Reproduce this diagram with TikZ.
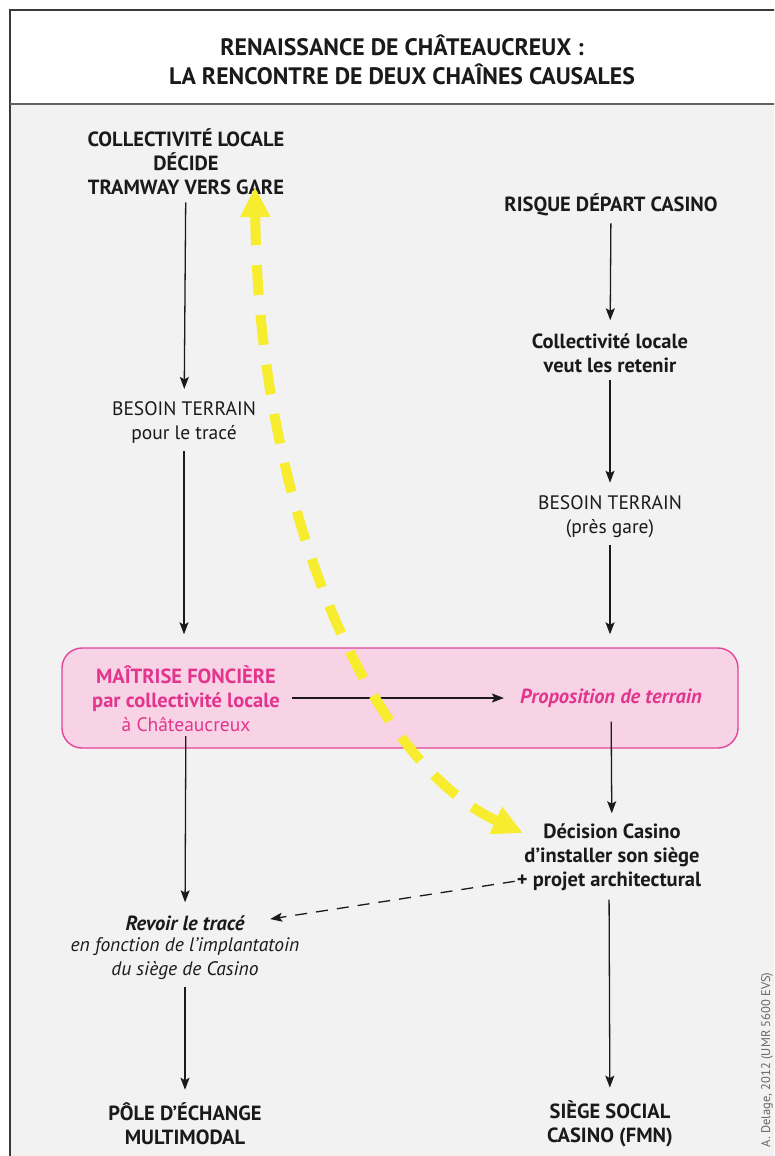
\documentclass[tikz,border=0pt]{standalone}
\usepackage{fontspec}
\setmainfont{PT Sans}
\usetikzlibrary{arrows.meta,calc}
\definecolor{bodybg}{HTML}{F2F2F2}
\definecolor{framec}{HTML}{3A3A3A}
\definecolor{pinkfill}{HTML}{F8D3E5}
\definecolor{pinkdraw}{HTML}{E2459B}
\definecolor{magtext}{HTML}{E3358E}
\definecolor{ink}{HTML}{1A1A1A}
\definecolor{yel}{HTML}{F7EC2E}
\newcommand{\regf}{\fontsize{19.5}{24}\selectfont}
\newcommand{\boldf}{\fontsize{20.5}{24}\selectfont\bfseries}
\begin{document}
\begin{tikzpicture}[x=1pt,y=-1pt,
  txt/.style={align=center,inner sep=0pt,text=ink,font=\regf},
  btxt/.style={txt,font=\boldf},
  arr/.style={draw=ink,line width=1.3pt,-{Stealth[length=12pt,width=9pt,inset=2.5pt]},shorten <=7pt,shorten >=13pt},
  darr/.style={arr,dashed,dash pattern=on 12pt off 9pt},
  yarr/.style={draw=yel,line width=10pt,dash pattern=on 30pt off 20pt,
    {Triangle[length=30pt,width=28pt]}-{Triangle[length=30pt,width=28pt]}}]
\useasboundingbox (0,0) rectangle (774,1156);
\clip (0,0) rectangle (774,1156);
\fill[white] (0,0) rectangle (774,1156);
\fill[bodybg] (10,104) rectangle (800,1170);
\draw[framec,line width=2pt] (10,1170) -- (10,10) -- (800,10);
\draw[framec!80,line width=2.6pt] (10,104) -- (800,104);
% title
\node[align=center,inner sep=0pt,text=ink,font=\fontsize{23.8}{29.5}\selectfont\bfseries] (title) at (402,60)
  {RENAISSANCE DE CHÂTEAUCREUX :\\LA RENCONTRE DE DEUX CHAÎNES CAUSALES};
% pink box
\node[draw=pinkdraw,fill=pinkfill,line width=1.4pt,rounded corners=20pt,minimum width=676pt,minimum height=100pt,inner sep=0pt] (box) at (400,698) {};
% left column
\node[btxt] (L1) at (186,162) {COLLECTIVITÉ LOCALE\\DÉCIDE\\TRAMWAY VERS GARE};
\node[txt] (L2) at (184,423) {BESOIN TERRAIN\\pour le tracé};
\node[txt,text=magtext] (LB) at (186,699) {{\boldf MAÎTRISE FONCIÈRE}\\{\boldf par collectivité locale}\\à Châteaucreux};
\node[btxt,font=\boldf\itshape] (L4a) at (185,923) {Revoir le tracé};
\node[txt,font=\regf\itshape] (L4b) at (185,959) {en fonction de l’implantatoin\\du siège de Casino};
\node[btxt] (L5) at (185,1124) {PÔLE D’ÉCHANGE\\MULTIMODAL};
% right column
\node[btxt] (R1) at (611,205) {RISQUE DÉPART CASINO};
\node[btxt] (R2) at (610,353) {Collectivité locale\\veut les retenir};
\node[txt] (R3) at (610,517) {BESOIN TERRAIN\\(près gare)};
\node[btxt,text=magtext,font=\boldf\itshape] (P) at (611,698) {Proposition de terrain};
\node[btxt] (R4a) at (612,845) {Décision Casino\\d’installer son siège};
\node[btxt] (R4b) at (609,881) {+ projet architectural};
\node[btxt] (R5) at (610,1124) {SIÈGE SOCIAL\\CASINO (FMN)};
% copyright
\node[rotate=90,inner sep=0pt,text=black!60,font=\fontsize{12.5}{14}\selectfont] (copy) at (767,1060) {A. Delage, 2012 (UMR 5600 EVS)};
% connectors
\draw[arr] (L1) -- (L2);
\draw[arr] (L2) -- (L2 |- box.north);
\draw[arr,shorten <=4pt] (LB) -- (L4a);
\draw[arr] (L4b) -- (L5);
\draw[arr,shorten <=12pt,shorten >=16pt] (LB.east |- P) -- (P);
\draw[arr] (R1) -- (R2);
\draw[arr] (R2) -- (R3);
\draw[arr] (R3) -- (R3 |- box.north);
\draw[arr,shorten <=14pt,shorten >=10pt] (P) -- (R4a);
\draw[arr,shorten <=9pt] (R4b) -- (R5);
\draw[darr,shorten <=2pt,shorten >=26pt] (R4b.west) -- (L4a.east);
% yellow double arrow
\coordinate (ytop) at (255,187);
\coordinate (ybot) at (523,833);
\draw[yarr] (ytop) .. controls (258,500) and (365,760) .. (ybot);
\end{tikzpicture}
\end{document}
